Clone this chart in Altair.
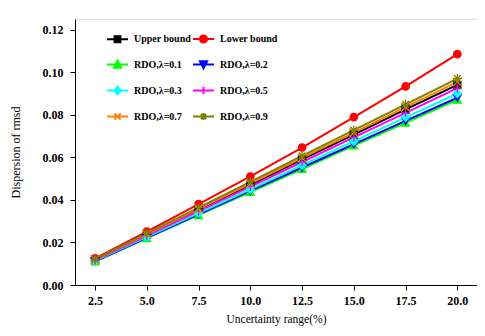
import altair as alt
import pandas as pd

x_vals = [2.5, 5.0, 7.5, 10.0, 12.5, 15.0, 17.5, 20.0]
upper = [0.0118, 0.0236, 0.0354, 0.0470, 0.0590, 0.0707, 0.0825, 0.0940]
lower = [0.0125, 0.0251, 0.0380, 0.0510, 0.0646, 0.0789, 0.0933, 0.1085]
rdo_01 = [0.0110, 0.0220, 0.0328, 0.0437, 0.0545, 0.0655, 0.0762, 0.0870]
rdo_02 = [0.0111, 0.0222, 0.0332, 0.0442, 0.0552, 0.0662, 0.0771, 0.0880]
rdo_03 = [0.0113, 0.0226, 0.0338, 0.0450, 0.0563, 0.0676, 0.0788, 0.0900]
rdo_05 = [0.0116, 0.0232, 0.0347, 0.0462, 0.0578, 0.0694, 0.0809, 0.0925]
rdo_07 = [0.0119, 0.0239, 0.0358, 0.0477, 0.0597, 0.0716, 0.0836, 0.0955]
rdo_09 = [0.0121, 0.0243, 0.0364, 0.0485, 0.0607, 0.0728, 0.0849, 0.0970]

series_names = ["Upper bound", "Lower bound", "RDO,λ=0.1", "RDO,λ=0.2",
                "RDO,λ=0.3", "RDO,λ=0.5", "RDO,λ=0.7", "RDO,λ=0.9"]
series_values = [upper, lower, rdo_01, rdo_02, rdo_03, rdo_05, rdo_07, rdo_09]
colors = ["#000000", "#ff0000", "#00ff00", "#0000ff",
          "#00ffff", "#ff00ff", "#ff8000", "#808000"]
y_ticks = [0.0, 0.02, 0.04, 0.06, 0.08, 0.10, 0.12]

# marker shapes for the plot
marker_shapes = [
    "M-1,-1H1V1H-1Z",
    "circle",
    "triangle-up",
    "triangle-down",
    "diamond",
    "M-1,0H1M0,-1V1",
    "M-1,-1L1,1M-1,1L1,-1",
    "M-1,0H1M0,-1V1M-0.75,-0.75L0.75,0.75M-0.75,0.75L0.75,-0.75",
]
marker_sizes = [50, 80, 64, 64, 70, 64, 56, 80]

# legend glyphs: a line through a small marker
legend_shapes = [
    "M-1,0H1M-0.28,-0.28H0.28V0.28H-0.28Z",
    "M-1,0H1M0.34,0A0.34,0.34 0 1,1 -0.34,0A0.34,0.34 0 1,1 0.34,0Z",
    "M-1,0H1M0,-0.36L0.34,0.3L-0.34,0.3Z",
    "M-1,0H1M0,0.36L0.34,-0.3L-0.34,-0.3Z",
    "M-1,0H1M0,-0.38L0.3,0L0,0.38L-0.3,0Z",
    "M-1,0H1M0,-0.33V0.33",
    "M-1,0H1M-0.3,-0.3L0.3,0.3M-0.3,0.3L0.3,-0.3",
    "M-1,0H1M0,-0.33V0.33M-0.25,-0.25L0.25,0.25M-0.25,0.25L0.25,-0.25",
]

rows = []
for name, vals in zip(series_names, series_values):
    for xv, yv in zip(x_vals, vals):
        rows.append({"x": xv, "y": yv, "series": name})
df = pd.DataFrame(rows)

FONT = "Liberation Serif"

xenc = alt.X("x:Q",
             scale=alt.Scale(domain=[1.53, 20.95], nice=False, zero=False),
             axis=alt.Axis(values=x_vals, format=".1f", title="Uncertainty range(%)",
                           grid=False, tickSize=5, labelPadding=5, titlePadding=7,
                           labelFont=FONT, labelFontSize=12, labelFontWeight="bold",
                           titleFont=FONT, titleFontSize=11.5, titleFontWeight="normal",
                           domainColor="black", tickColor="black", labelColor="black",
                           titleColor="black"))
yenc = alt.Y("y:Q",
             scale=alt.Scale(domain=[0, 0.125], nice=False),
             axis=alt.Axis(values=y_ticks, format=".2f", title="Dispersion of rmsd",
                           grid=False, tickSize=5, labelPadding=7, titlePadding=20,
                           labelFont=FONT, labelFontSize=12, labelFontWeight="bold",
                           titleFont=FONT, titleFontSize=12, titleFontWeight="normal",
                           domainColor="black", tickColor="black", labelColor="black",
                           titleColor="black"))

dom = series_names

lines = alt.Chart(df).mark_line(strokeWidth=2).encode(
    x=xenc, y=yenc,
    color=alt.Color("series:N", scale=alt.Scale(domain=dom, range=colors), legend=None),
    detail="series:N",
)

points = alt.Chart(df).mark_point(filled=True, strokeWidth=1.3, opacity=1).encode(
    x=xenc, y=yenc,
    fill=alt.Fill("series:N", scale=alt.Scale(domain=dom, range=colors), legend=None),
    stroke=alt.Stroke("series:N", scale=alt.Scale(domain=dom, range=colors), legend=None),
    shape=alt.Shape("series:N", scale=alt.Scale(domain=dom, range=marker_shapes), legend=None),
    size=alt.Size("series:N", scale=alt.Scale(domain=dom, range=marker_sizes), legend=None),
)

leg = alt.Legend(title=None, orient="none", legendX=31, legendY=8, columns=2,
                 direction="horizontal",
                 symbolSize=441, symbolStrokeWidth=2, labelFont=FONT, labelFontSize=10,
                 labelFontWeight="bold", labelColor="black", labelOffset=5,
                 columnPadding=-2, rowPadding=6, padding=0, symbolOpacity=1)

legend_layer = alt.Chart(df).transform_filter("datum.x < 0").mark_point(
    filled=True, strokeWidth=2).encode(
    x=xenc, y=yenc,
    fill=alt.Fill("series:N", scale=alt.Scale(domain=dom, range=colors), legend=leg),
    stroke=alt.Stroke("series:N", scale=alt.Scale(domain=dom, range=colors), legend=leg),
    shape=alt.Shape("series:N", scale=alt.Scale(domain=dom, range=legend_shapes), legend=leg),
)

chart = alt.layer(legend_layer, lines, points).resolve_scale(
    fill="independent", stroke="independent", shape="independent",
    color="independent", size="independent",
).properties(
    width=402, height=266,
    padding={"left": 67, "top": 11, "right": 0, "bottom": 43},
    autosize=alt.AutoSizeParams(type="none"),
).configure_view(stroke=None).configure(background="white")

chart.save("out.html", embed_options={"renderer": "svg", "actions": False})
